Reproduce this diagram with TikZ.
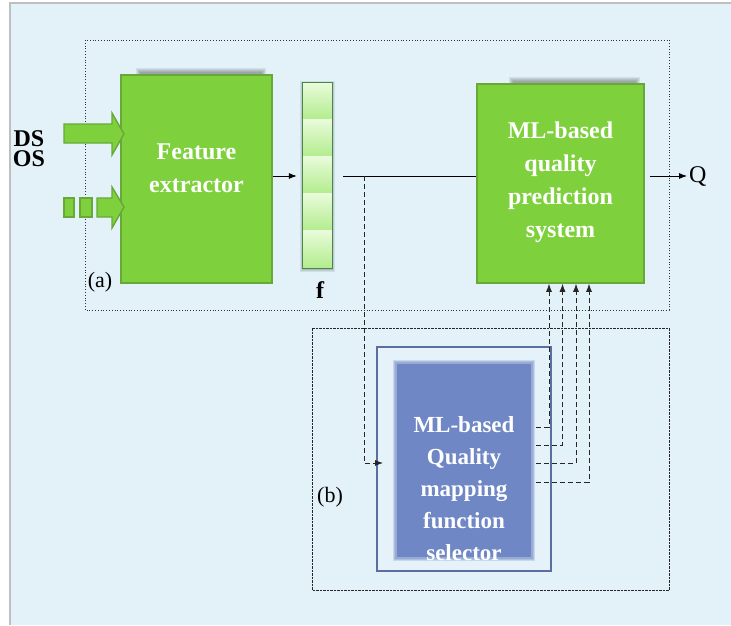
\documentclass[tikz,border=0pt]{standalone}
\usepackage{fontspec}
\setmainfont{Liberation Serif}
\usetikzlibrary{calc,arrows.meta}
\definecolor{bgblue}{RGB}{226,242,248}
\definecolor{gfill}{RGB}{126,209,60}
\definecolor{gdraw}{RGB}{104,168,56}
\definecolor{bdraw}{RGB}{90,110,160}
\definecolor{bfill}{RGB}{111,136,197}
\definecolor{obfill}{RGB}{230,242,249}
\definecolor{cellTop}{RGB}{232,251,218}
\definecolor{cellBot}{RGB}{178,236,140}
\tikzset{
  greenbox/.style={draw=gdraw, fill=gfill, line width=1.6pt, inner sep=0pt},
  wtext/.style={text=white, font=\fontsize{24}{33}\selectfont\bfseries, align=center},
  lbl/.style={font=\fontsize{22}{24}\selectfont, inner sep=0pt},
  arr/.style={-{Latex[length=8pt,width=6pt]}, line width=0.8pt},
  dashln/.style={dash pattern=on 5pt off 3pt, line width=0.8pt, draw=black!85},
  garrow/.style={fill=gfill, draw=gdraw, line width=1.4pt}
}
\begin{document}
\begin{tikzpicture}[x=1pt,y=-1pt]
\useasboundingbox (0,0) rectangle (731,625);
\fill[white] (0,0) rectangle (731,625);
\fill[bgblue] (10,3) rectangle (731,625);
\draw[black!25, line width=2.5pt] (10,625) -- (10,3) -- (731,3);

% region boxes
\draw[dotted, line width=0.8pt, black!80] (85,40) rectangle (669,310);
\draw[dash pattern=on 2.5pt off 1pt, line width=0.8pt, black!85] (312,328) rectangle (669,590);

% soft shadows of the green boxes
\foreach \d in {0,1,2,3,4} {
  \fill[black, opacity=0.07] (136+\d,68+\d) rectangle (266-\d,80);
  \fill[black, opacity=0.07] (509+\d,77+\d) rectangle (640-\d,88);
}

% feature extractor
\node[greenbox, minimum width=151pt, minimum height=208pt] (fe) at (196.5,179) {};
\node[wtext] at ([yshift=11pt]fe.center) {Feature\\extractor};

% ML-based prediction system
\node[greenbox, minimum width=167pt, minimum height=199pt] (ml) at (560.5,183.5) {};
\node[wtext] at ([yshift=1pt]ml.center) {ML-based\\quality\\prediction\\system};

% input arrows
\draw[garrow] (64,124) -- (112,124) -- (112,113) -- (124,134) -- (112,155) -- (112,143) -- (64,143) -- cycle;
\draw[garrow] (64,198) rectangle (74,217);
\draw[garrow] (80,198) rectangle (92,217);
\draw[garrow] (97,198) -- (112,198) -- (112,187) -- (124,207) -- (112,228) -- (112,217) -- (97,217) -- cycle;
\node[font=\fontsize{24}{20}\selectfont\bfseries, align=center, inner sep=0pt] (dsos) at (29,149) {DS\\OS};

% feature vector
\node[inner sep=0pt, minimum width=29pt, minimum height=185pt] (fv) at (317.5,175.5) {};
\foreach \d in {1,2,3} {
  \fill[black, opacity=0.08] ($(fv.north west)+(-\d,-\d+1)$) rectangle ($(fv.south east)+(\d,\d+1)$);
}
\foreach \i in {0,...,4} {
  \shade[top color=cellTop, bottom color=cellBot] ($(fv.north west)+(0,37*\i)$) rectangle ++(29,37);
}
\draw[black!45!green!40!gray, line width=0.8pt] (fv.north west) rectangle (fv.south east);
\node[font=\fontsize{24}{24}\selectfont\bfseries, inner sep=0pt] (flab) at (320,290) {f};

% selector
\node[draw=bdraw, fill=obfill, line width=1.6pt, inner sep=0pt, minimum width=174pt, minimum height=224pt] (outer) at (464,459) {};
\coordinate (sel0) at (464,460.5);
\foreach \d/\o in {3/0.25,2/0.3,1/0.35} {
  \fill[bfill, opacity=\o] ($(sel0)+(-68-\d,-97.5-\d)$) rectangle ($(sel0)+(68+\d,97.5+\d)$);
}
\node[fill=bfill, inner sep=0pt, minimum width=134pt, minimum height=193pt] (sel) at (sel0) {};
\node[wtext, font=\fontsize{23}{32}\selectfont\bfseries] at ([yshift=-28pt]sel.center) {ML-based\\Quality\\mapping\\function\\selector};

% output Q
\node[font=\fontsize{24}{24}\selectfont, anchor=west, inner sep=2pt] (Q) at (687,176) {Q};

% labels
\node[lbl] (la) at (100,282) {(a)};
\node[lbl] (lb) at (330,497) {(b)};

% connectors
\draw[arr] (fe.east |- 0,176) -- ($(fv.west |- 0,176)+(-6,0)$);
\coordinate (tap) at (364,176);
\draw[line width=0.8pt] ($(fv.east |- 0,176)+(11,0)$) -- (ml.west |- 0,176);
\draw[arr] ($(ml.east |- 0,176)+(5,0)$) -- (Q.west);
\coordinate (selin) at (383,463);
\draw[dashln, arr, dash pattern=on 5pt off 3pt] (tap) |- (selin);
\foreach \y/\x in {427/549,445/562.5,463/576,482/589} {
  \draw[dashln, arr, dash pattern=on 5pt off 3pt] ($(sel.east |- 0,\y)+(5,0)$) -| ($(ml.south)+(\x-560.5,0)$);
}
\end{tikzpicture}
\end{document}
